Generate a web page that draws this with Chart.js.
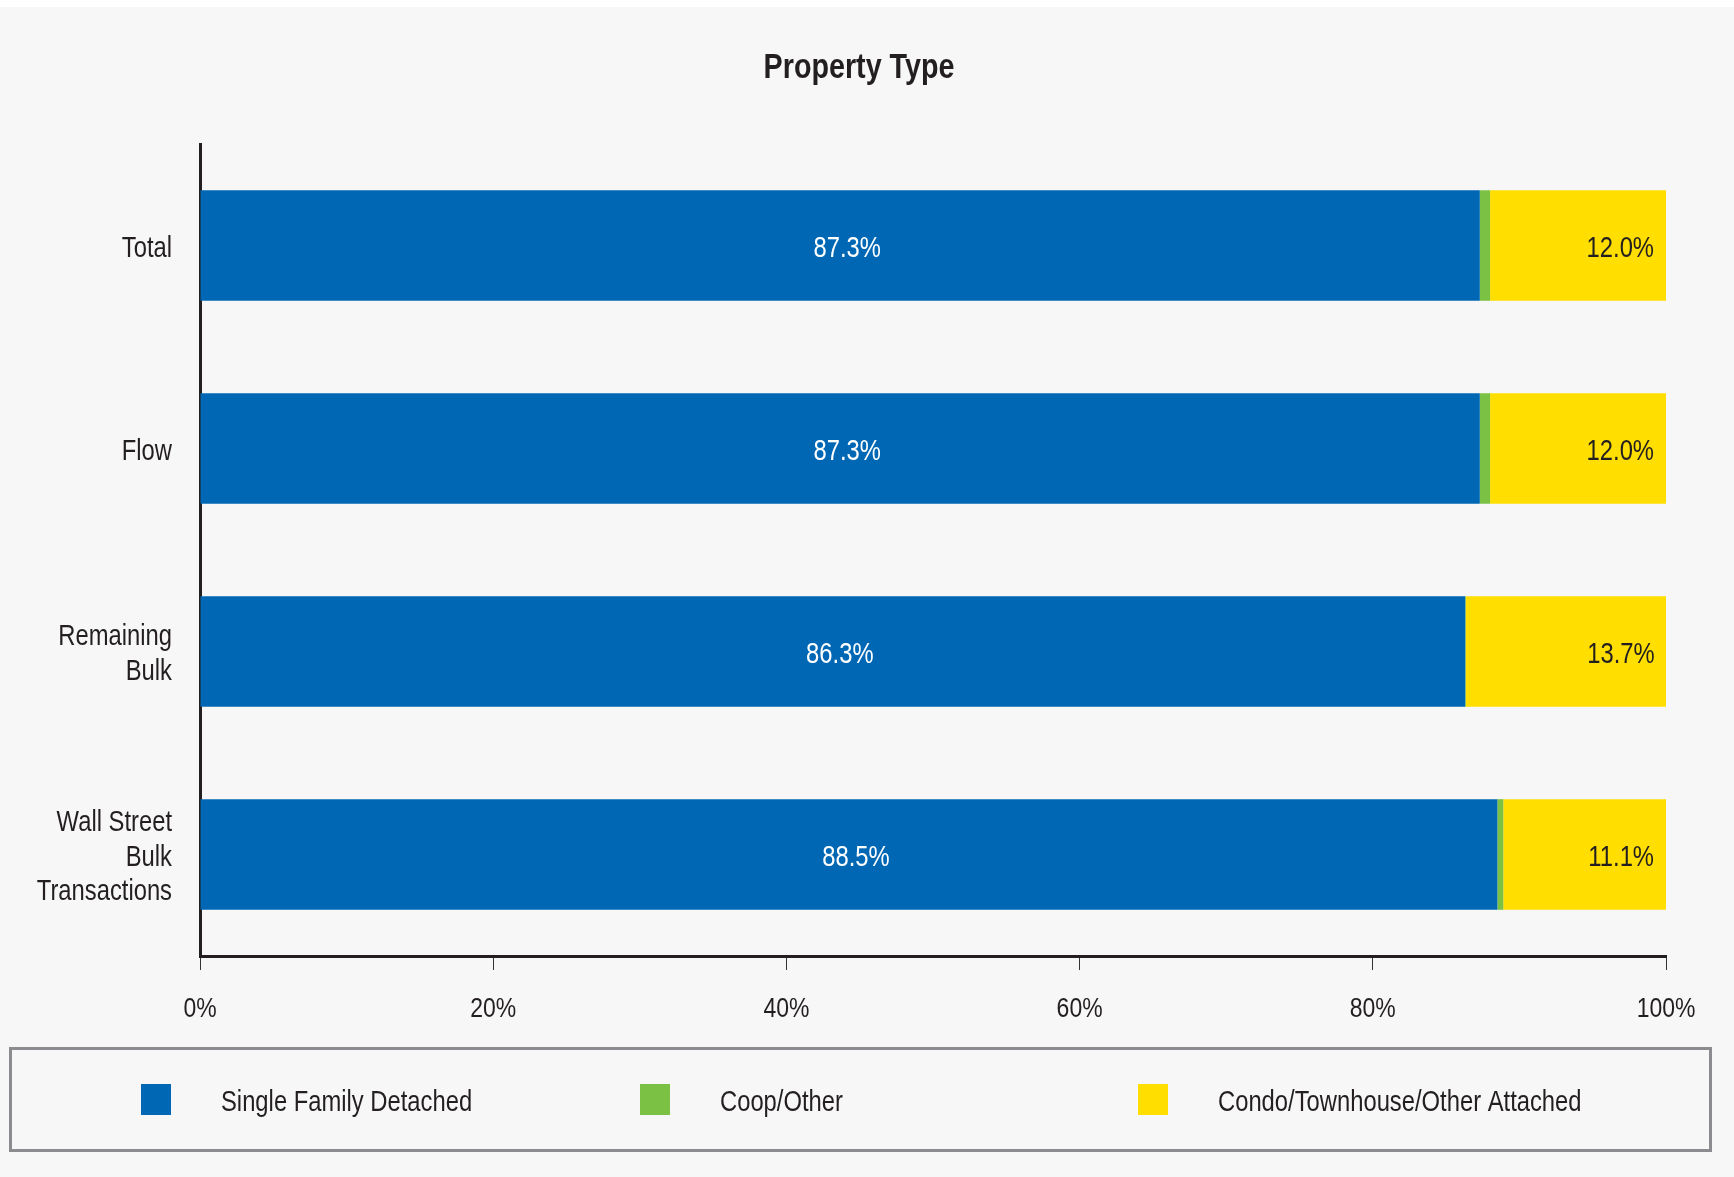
<!DOCTYPE html>
<html>
<head>
<meta charset="utf-8">
<title>Property Type</title>
<script src="https://cdn.jsdelivr.net/npm/chart.js@4/dist/chart.umd.min.js"></script>
<style>
  html, body { margin: 0; padding: 0; background: #ffffff; }
  #wrap { position: relative; width: 1734px; height: 1177px; }
</style>
</head>
<body>
<div id="wrap"><canvas id="propertyType" width="1734" height="1177"></canvas></div>
<script>
// data
var categories = ["Total", "Flow", ["Remaining", "Bulk"], ["Wall Street", "Bulk", "Transactions"]];
var singleFamily = [87.3, 87.3, 86.3, 88.5];
var coopOther = [0.7, 0.7, 0.05, 0.4];
var condoAttached = [12.0, 12.0, 13.7, 11.1];
var seriesNames = ["Single Family Detached", "Coop/Other", "Condo/Townhouse/Other Attached"];
var tickValues = [0, 20, 40, 60, 80, 100];

var FONT = '"Liberation Sans Narrow", "Arial Narrow", "Liberation Sans", Arial, sans-serif';
var colors = ["#0067b4", "#7bc143", "#ffde00"];
var TEXT = "#231f20";
var NARROW = 0.82; // no condensed face installed, squeeze the text instead

// page background with white strip on top, and a narrow text hack
var bgPlugin = {
  id: "bg",
  afterLayout: function (c) {
    // title is centred on the page, not on the plot
    var t = c.titleBlock;
    if (t) { t.right = 1718; t.width = t.right - t.left; }
  },
  beforeDraw: function (c) {
    var ctx = c.ctx;
    if (!ctx._narrow) {
      var orig = ctx.fillText;
      ctx.fillText = function (txt, x, y, maxW) {
        ctx.save();
        ctx.translate(x, y + 3);
        ctx.scale(NARROW, 1);
        if (maxW !== undefined) orig.call(ctx, txt, 0, 0, maxW / NARROW);
        else orig.call(ctx, txt, 0, 0);
        ctx.restore();
      };
      ctx._narrow = true;
    }
    ctx.save();
    ctx.fillStyle = "#ffffff";
    ctx.fillRect(0, 0, c.width, c.height);
    ctx.fillStyle = "#f7f7f7";
    ctx.fillRect(0, 7, c.width, c.height - 7);
    ctx.restore();
  }
};

// value labels: blue segment centered (white), yellow segment right aligned (dark)
var valueLabels = {
  id: "valueLabels",
  afterDatasetsDraw: function (c) {
    var ctx = c.ctx;
    ctx.save();
    ctx.font = "29px " + FONT;
    ctx.textBaseline = "middle";
    c.getDatasetMeta(0).data.forEach(function (bar, i) {
      ctx.fillStyle = "#ffffff";
      ctx.textAlign = "center";
      ctx.fillText(singleFamily[i].toFixed(1) + "%", (bar.base + bar.x) / 2 + 7, bar.y);
    });
    c.getDatasetMeta(2).data.forEach(function (bar, i) {
      ctx.fillStyle = TEXT;
      ctx.textAlign = "right";
      ctx.fillText(condoAttached[i].toFixed(1) + "%", bar.x - 12, bar.y);
    });
    ctx.restore();
  }
};

// boxed legend along the bottom
var boxLegend = {
  id: "boxLegend",
  afterDraw: function (c) {
    var ctx = c.ctx;
    ctx.save();
    ctx.strokeStyle = "#8c8c90";
    ctx.lineWidth = 3;
    ctx.strokeRect(10.5, 1048.5, 1700, 102);
    var xs = [141, 640, 1138];
    ctx.font = "29px " + FONT;
    ctx.textBaseline = "middle";
    ctx.textAlign = "left";
    c.data.datasets.forEach(function (ds, i) {
      ctx.fillStyle = ds.backgroundColor;
      ctx.fillRect(xs[i], 1084, 30, 31);
      ctx.fillStyle = TEXT;
      ctx.fillText(ds.label, xs[i] + 80, 1100);
    });
    ctx.restore();
  }
};

new Chart(document.getElementById("propertyType"), {
  type: "bar",
  data: {
    labels: categories,
    datasets: [
      { label: seriesNames[0], data: singleFamily, backgroundColor: colors[0] },
      { label: seriesNames[1], data: coopOther, backgroundColor: colors[1] },
      { label: seriesNames[2], data: condoAttached, backgroundColor: colors[2] }
    ]
  },
  options: {
    indexAxis: "y",
    responsive: false,
    animation: false,
    maintainAspectRatio: false,
    datasets: { bar: { barPercentage: 0.545, categoryPercentage: 1, borderWidth: 0 } },
    layout: { padding: { top: 0, left: 0, right: 68, bottom: 141 } },
    plugins: {
      legend: { display: false },
      tooltip: { enabled: false },
      title: {
        display: true,
        text: "Property Type",
        color: TEXT,
        font: { family: FONT, size: 35, weight: "bold" },
        padding: { top: 44, bottom: 58 }
      }
    },
    scales: {
      x: {
        stacked: true,
        min: 0,
        max: 100,
        afterBuildTicks: function (s) {
          s.ticks = tickValues.map(function (v) { return { value: v }; });
        },
        afterFit: function (s) { s.height = 80; },
        grid: { drawOnChartArea: false, drawTicks: true, tickLength: 14, color: "#333333", lineWidth: 1 },
        border: { display: true, color: TEXT, width: 3 },
        ticks: {
          color: TEXT,
          padding: 19,
          font: { family: FONT, size: 28 },
          callback: function (v) { return v + "%"; }
        }
      },
      y: {
        stacked: true,
        afterFit: function (s) { s.width = 200; },
        grid: { display: false, drawTicks: false },
        border: { display: true, color: TEXT, width: 3 },
        ticks: {
          color: TEXT,
          padding: 28,
          font: { family: FONT, size: 29, lineHeight: 1.2 }
        }
      }
    }
  },
  plugins: [bgPlugin, valueLabels, boxLegend]
});
</script>
</body>
</html>
